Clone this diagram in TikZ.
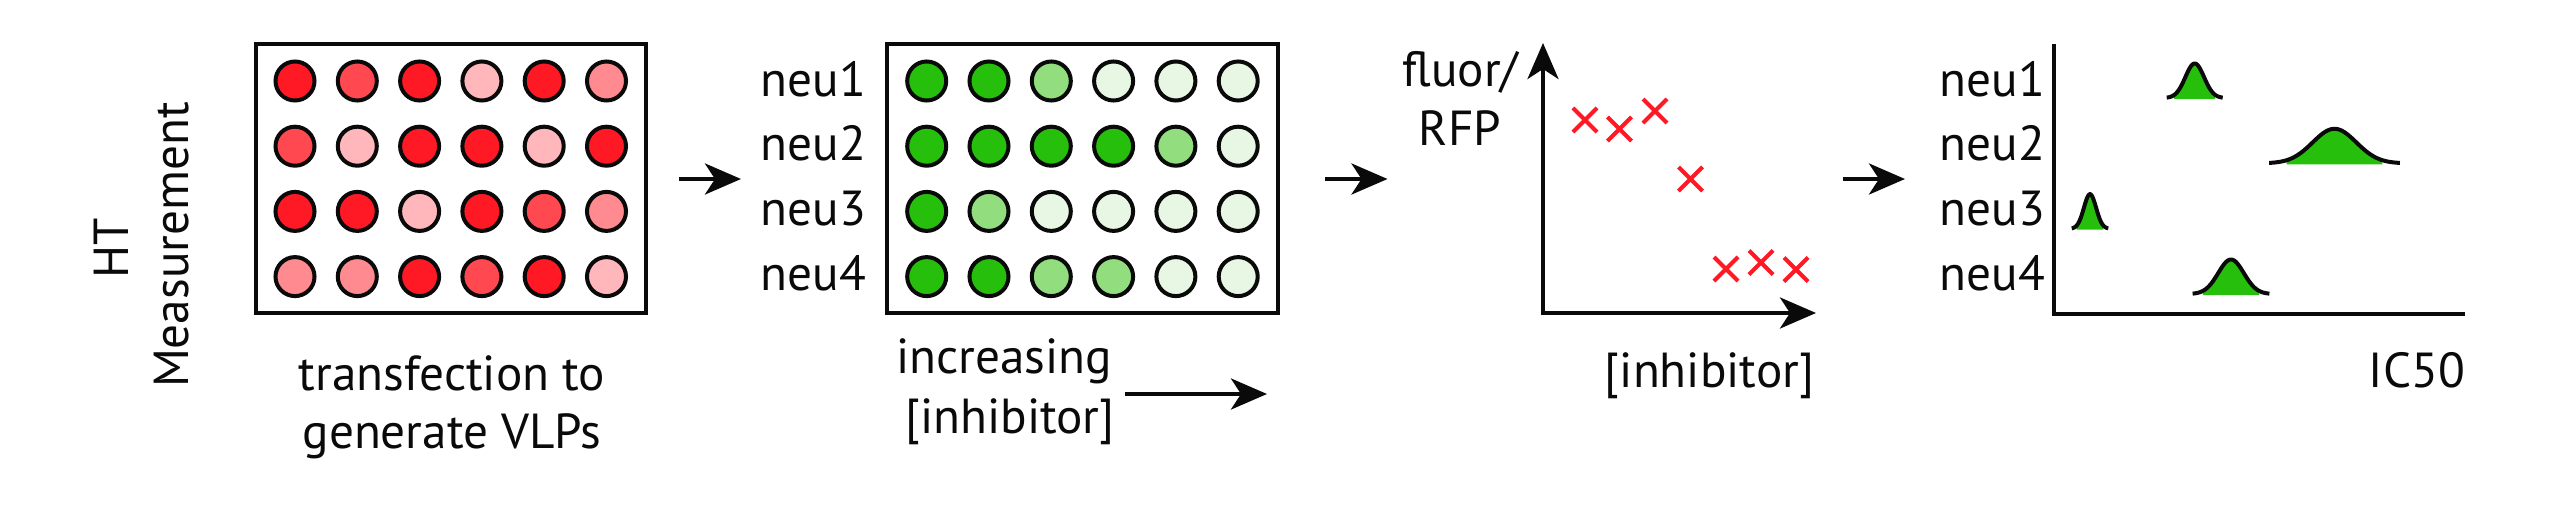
\documentclass[tikz,border=0pt]{standalone}
\usepackage{fontspec}
\setmainfont{PT Sans}
\usetikzlibrary{arrows.meta,shapes.misc}
\definecolor{redS}{RGB}{255,25,37}
\definecolor{redM}{RGB}{255,72,80}
\definecolor{redL}{RGB}{255,138,144}
\definecolor{redP}{RGB}{255,183,187}
\definecolor{grnD}{RGB}{38,192,12}
\definecolor{grnL}{RGB}{146,222,126}
\definecolor{grnW}{RGB}{231,247,228}
\definecolor{ink}{RGB}{10,10,10}
\newcommand\gaussbump[3]{%
  \fill[grnD] plot[domain=-2.2:2.2, samples=40] ({#1+#3*\x},{#2-34.5*exp(-\x*\x/2)}) -- ({#1+2.2*#3},{#2+1}) -- ({#1-2.2*#3},{#2+1}) -- cycle;
  \draw[curve] plot[domain=-3:3, samples=60] ({#1+#3*\x},{#2-34.5*exp(-\x*\x/2)});
}
\begin{document}
\begin{tikzpicture}[x=0.01cm,y=-0.01cm,
  plate/.style={draw=ink, line width=0.04cm, minimum width=3.9cm, minimum height=2.69cm, inner sep=0pt},
  well/.style={circle, draw=ink, line width=0.04cm, minimum size=0.39cm, inner sep=0pt},
  lbl/.style={font=\fontsize{14}{17}\selectfont, inner sep=0pt, text=ink},
  pt/.style={cross out, draw=redS, line width=0.04cm, minimum size=0.2cm, inner sep=0pt},
  arr/.style={-{Stealth[length=0.36cm,width=0.31cm,inset=0.1cm]}, line width=0.04cm, draw=ink},
  ax/.style={line width=0.04cm, draw=ink, line join=miter},
  curve/.style={line width=0.04cm, draw=ink},
]
\useasboundingbox (0,0) rectangle (2550,506);

% rotated title
\node[lbl, rotate=90, anchor=base] (ht) at (128,248.5) {HT};
\node[lbl, rotate=90, anchor=base] (meas) at (188,245) {Measurement};

% plate 1
\node[plate] (p1) at (451,178.5) {};
\foreach \row [count=\r] in {{S,M,S,P,S,L},{M,P,S,S,P,S},{S,S,P,S,M,L},{L,L,S,M,S,P}} {
  \foreach \c [count=\k] in \row {
    \node[well, fill=red\c] (r\r\k) at ({295+62.3*(\k-1)},{81+65.2*(\r-1)}) {};
  }
}
\node[lbl, anchor=base] (tf1) at (452,390) {transfection to};
\node[lbl, anchor=base] (tf2) at (452,448) {generate VLPs};

% arrow 1
\coordinate (a1s) at (679,179);
\coordinate (a1e) at (741,179);
\draw[arr] (a1s) -- (a1e);

% plate 2
\node[plate] (p2) at (1082.5,178.5) {};
\foreach \row [count=\r] in {{D,D,L,W,W,W},{D,D,D,D,L,W},{D,L,W,W,W,W},{D,D,L,L,W,W}} {
  \foreach \c [count=\k] in \row {
    \node[well, fill=grn\c] (g\r\k) at ({926.7+62.3*(\k-1)},{81+65.2*(\r-1)}) {};
  }
}
\foreach \i in {1,2,3,4} {
  \node[lbl, anchor=base west] (n\i) at (760,{96+64.9*(\i-1)}) {neu\i};
}
\node[lbl, anchor=base] (inc1) at (1004,373) {increasing};
\node[lbl, anchor=base] (inc2) at (1010,433) {[inhibitor]};
\coordinate (ias) at (1125,394);
\coordinate (iae) at (1267,394);
\draw[arr] (ias) -- (iae);

% arrow 2
\coordinate (a2s) at (1325,179);
\coordinate (a2e) at (1387.5,179);
\draw[arr] (a2s) -- (a2e);

% panel 3: dose response
\coordinate (o3) at (1543,313);
\coordinate (y3) at (1543,43);
\coordinate (x3) at (1816,313);
\draw[ax, {Stealth[length=0.36cm,width=0.31cm,inset=0.1cm]}-{Stealth[length=0.36cm,width=0.31cm,inset=0.1cm]}] (y3) -- (o3) -- (x3);
\node[lbl, anchor=base] (fl1) at (1460.5,86) {fluor/};
\node[lbl, anchor=base] (fl2) at (1460,145) {RFP};
\node[lbl, anchor=base] (inh) at (1709.5,387) {[inhibitor]};
\node[pt] (x1) at (1585,120) {};
\node[pt] (x2) at (1619.5,129) {};
\node[pt] (x3p) at (1655,111) {};
\node[pt] (x4) at (1690.5,179) {};
\node[pt] (x5) at (1726,269) {};
\node[pt] (x6) at (1761,262.5) {};
\node[pt] (x7) at (1796,269.5) {};

% arrow 3
\coordinate (a3s) at (1842.5,179);
\coordinate (a3e) at (1905,179);
\draw[arr] (a3s) -- (a3e);

% panel 4: IC50 distributions
\foreach \i in {1,2,3,4} {
  \node[lbl, anchor=base west] (m\i) at (1939,{96+64.9*(\i-1)}) {neu\i};
}
\coordinate (y4) at (2054,44);
\coordinate (o4) at (2054,314);
\coordinate (x4e) at (2465,314);
\draw[ax] (y4) -- (o4) -- (x4e);
\gaussbump{2194.7}{98}{9.33}
\gaussbump{2334.5}{163.3}{21.8}
\gaussbump{2090}{228.7}{6.1}
\gaussbump{2231}{294}{12.8}
\node[lbl, anchor=base] (ic) at (2417,387) {IC50};
\end{tikzpicture}
\end{document}
